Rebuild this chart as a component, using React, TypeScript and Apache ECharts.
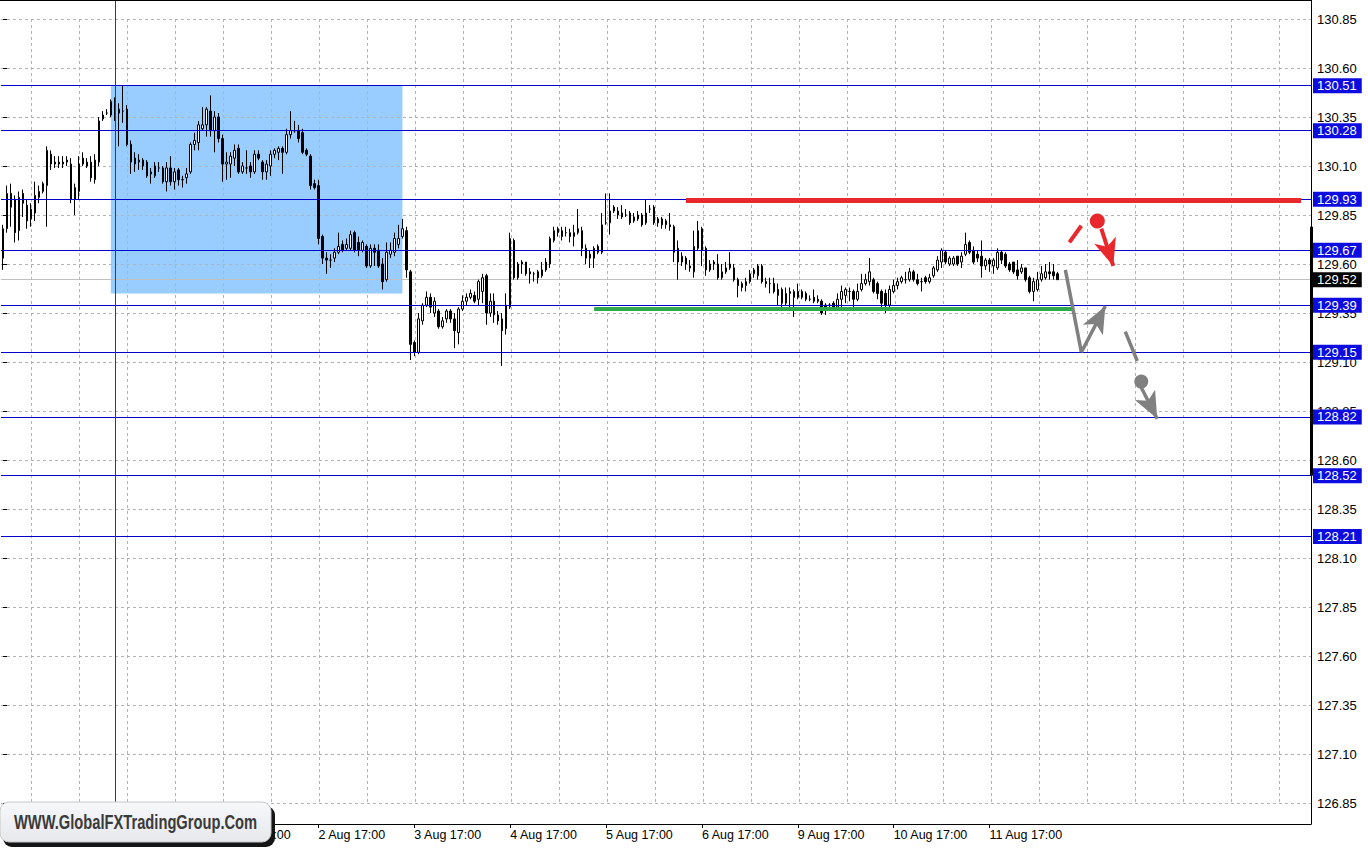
import React, { useEffect, useRef } from 'react';
import * as echarts from 'echarts';

// ---------------- data ----------------
// H1 candles, each row: [open, high, low, close]
const candlesA = [
  [129.63,129.80,129.57,129.78],[129.78,130.00,129.76,129.96],[129.96,130.01,129.79,129.89],[129.93,129.95,129.71,129.76],[129.77,129.97,129.72,129.94],
  [129.96,129.98,129.84,129.91],[129.90,129.93,129.78,129.82],[129.83,129.91,129.79,129.88],[129.86,130.02,129.82,129.95],[129.94,130.00,129.91,129.97],
  [129.97,130.02,129.96,130.01],[130.00,130.20,129.79,130.18],[130.16,130.18,130.08,130.11],[130.12,130.15,130.09,130.11],[130.11,130.15,130.09,130.12],
  [130.11,130.15,130.09,130.12],[130.13,130.15,130.10,130.12],[130.11,130.14,129.91,129.93],[129.93,130.01,129.85,129.99],[129.97,130.15,129.93,130.11],
  [130.14,130.17,130.10,130.11],[130.10,130.14,130.09,130.12],[130.12,130.15,130.02,130.04],[130.03,130.16,130.01,130.13],[130.12,130.35,130.10,130.33],
  [130.34,130.38,130.33,130.36],[130.37,130.39,130.36,130.37],[130.36,130.44,130.35,130.43],[130.42,130.45,130.33,130.35],[130.37,130.42,130.20,130.39],
  [130.38,130.51,130.32,130.38],[130.39,130.41,130.20,130.21],[130.21,130.23,130.06,130.12],[130.14,130.17,130.07,130.11],[130.12,130.16,130.08,130.13],
  [130.13,130.14,130.08,130.10],[130.12,130.13,130.04,130.05],[130.07,130.09,130.01,130.06],[130.05,130.12,130.04,130.10],[130.09,130.12,130.07,130.09],
  [130.09,130.10,130.01,130.02],[130.02,130.12,129.97,130.09],[130.09,130.15,130.00,130.02],[130.02,130.09,129.98,130.07],[130.08,130.09,130.00,130.03],
];
const candlesB = [
  [130.03,130.05,129.99,130.03],[130.04,130.09,130.01,130.06],[130.07,130.22,130.06,130.21],[130.21,130.27,130.18,130.23],[130.22,130.33,130.18,130.31],
  [130.29,130.40,130.28,130.31],[130.31,130.40,130.25,130.39],[130.38,130.46,130.25,130.28],[130.28,130.38,130.17,130.35],[130.35,130.37,130.22,130.24],
  [130.24,130.26,130.02,130.11],[130.11,130.17,130.03,130.12],[130.11,130.17,130.04,130.15],[130.14,130.21,130.10,130.18],[130.19,130.21,130.06,130.07],
  [130.07,130.12,130.06,130.10],[130.09,130.18,130.06,130.09],[130.10,130.12,130.04,130.07],[130.07,130.18,130.06,130.16],[130.16,130.18,130.13,130.14],
  [130.12,130.13,130.03,130.07],[130.07,130.13,130.03,130.11],[130.10,130.18,130.05,130.16],[130.16,130.19,130.14,130.18],[130.17,130.20,130.13,130.19],
  [130.19,130.20,130.06,130.17],[130.17,130.29,130.16,130.26],[130.26,130.38,130.24,130.28],[130.28,130.33,130.27,130.28],[130.28,130.31,130.22,130.24],
  [130.27,130.29,130.16,130.17],[130.18,130.19,130.15,130.16],[130.15,130.16,129.98,130.00],[130.01,130.03,129.98,129.99],[130.00,130.03,129.70,129.73],
  [129.74,129.75,129.60,129.63],[129.63,129.66,129.55,129.62],[129.62,129.65,129.58,129.62],[129.63,129.68,129.61,129.66],[129.66,129.76,129.65,129.69],
  [129.70,129.72,129.66,129.67],[129.68,129.73,129.67,129.70],[129.68,129.77,129.67,129.75],[129.76,129.77,129.66,129.67],[129.71,129.74,129.64,129.67],
];
const candlesC = [
  [129.67,129.72,129.66,129.71],[129.69,129.70,129.58,129.59],[129.59,129.70,129.58,129.68],[129.68,129.70,129.59,129.66],[129.67,129.70,129.58,129.59],
  [129.60,129.63,129.47,129.51],[129.52,129.71,129.51,129.66],[129.65,129.71,129.63,129.67],[129.66,129.76,129.64,129.73],[129.70,129.80,129.68,129.73],
  [129.74,129.83,129.73,129.78],[129.77,129.79,129.53,129.57],[129.56,129.57,129.11,129.19],[129.20,129.21,129.13,129.15],[129.15,129.35,129.14,129.32],
  [129.31,129.40,129.29,129.39],[129.39,129.46,129.38,129.43],[129.43,129.45,129.35,129.38],[129.35,129.43,129.33,129.41],[129.36,129.37,129.27,129.28],
  [129.28,129.33,129.27,129.31],[129.32,129.37,129.30,129.36],[129.36,129.37,129.30,129.32],[129.32,129.35,129.17,129.26],[129.25,129.38,129.19,129.37],
  [129.37,129.44,129.36,129.41],[129.41,129.45,129.39,129.43],[129.43,129.47,129.42,129.45],[129.44,129.46,129.40,129.41],[129.42,129.52,129.39,129.51],
  [129.46,129.55,129.40,129.53],[129.54,129.55,129.29,129.35],[129.35,129.45,129.33,129.41],[129.41,129.45,129.30,129.34],[129.34,129.36,129.29,129.31],
  [129.32,129.35,129.08,129.26],[129.27,129.45,129.24,129.39],[129.38,129.76,129.37,129.73],[129.72,129.73,129.52,129.53],[129.53,129.61,129.52,129.60],
  [129.60,129.62,129.55,129.61],[129.61,129.61,129.54,129.55],[129.56,129.58,129.50,129.55],[129.55,129.56,129.51,129.55],[129.56,129.57,129.50,129.53],
];
const candlesD = [
  [129.54,129.61,129.53,129.57],[129.57,129.63,129.56,129.61],[129.60,129.74,129.58,129.73],[129.72,129.79,129.71,129.77],[129.76,129.79,129.74,129.78],
  [129.77,129.79,129.72,129.74],[129.76,129.79,129.74,129.76],[129.76,129.78,129.71,129.74],[129.74,129.80,129.69,129.76],[129.76,129.88,129.75,129.78],
  [129.77,129.79,129.64,129.68],[129.68,129.70,129.60,129.63],[129.65,129.67,129.58,129.63],[129.63,129.69,129.58,129.68],[129.69,129.70,129.65,129.66],
  [129.66,129.86,129.65,129.80],[129.81,129.96,129.80,129.81],[129.81,129.96,129.75,129.87],[129.89,129.90,129.86,129.87],[129.87,129.89,129.83,129.85],
  [129.86,129.90,129.83,129.84],[129.85,129.88,129.84,129.85],[129.86,129.87,129.80,129.81],[129.82,129.86,129.81,129.84],[129.83,129.87,129.82,129.85],
  [129.85,129.86,129.79,129.80],[129.81,129.93,129.80,129.86],[129.88,129.90,129.86,129.88],[129.89,129.90,129.80,129.81],[129.83,129.84,129.79,129.81],
  [129.83,129.84,129.78,129.80],[129.80,129.83,129.78,129.82],[129.80,129.86,129.77,129.79],[129.79,129.80,129.61,129.66],[129.68,129.72,129.52,129.61],
  [129.61,129.66,129.59,129.64],[129.63,129.64,129.57,129.60],[129.59,129.62,129.56,129.58],[129.56,129.77,129.53,129.69],[129.68,129.82,129.67,129.77],
  [129.78,129.79,129.59,129.67],[129.68,129.69,129.54,129.57],[129.57,129.62,129.56,129.60],[129.60,129.62,129.57,129.61],[129.60,129.65,129.52,129.53],
];
const candlesE = [
  [129.53,129.60,129.52,129.56],[129.56,129.61,129.55,129.58],[129.58,129.66,129.57,129.60],[129.58,129.60,129.51,129.52],[129.52,129.53,129.43,129.49],
  [129.48,129.51,129.46,129.50],[129.49,129.53,129.46,129.51],[129.51,129.57,129.50,129.55],[129.55,129.58,129.53,129.57],[129.54,129.60,129.52,129.59],
  [129.59,129.60,129.50,129.51],[129.51,129.53,129.48,129.50],[129.50,129.53,129.45,129.50],[129.50,129.53,129.45,129.46],[129.47,129.50,129.39,129.44],
  [129.47,129.48,129.38,129.40],[129.40,129.48,129.39,129.45],[129.45,129.48,129.38,129.46],[129.43,129.47,129.33,129.46],[129.46,129.50,129.42,129.43],
  [129.43,129.47,129.42,129.46],[129.45,129.46,129.41,129.42],[129.42,129.44,129.41,129.42],[129.43,129.47,129.40,129.41],[129.42,129.44,129.40,129.41],
  [129.41,129.42,129.34,129.35],[129.39,129.40,129.34,129.37],[129.39,129.40,129.37,129.39],[129.40,129.41,129.36,129.38],[129.38,129.45,129.37,129.42],
  [129.42,129.49,129.37,129.46],[129.44,129.48,129.40,129.47],[129.46,129.48,129.41,129.46],[129.46,129.47,129.38,129.42],[129.42,129.50,129.41,129.46],
  [129.47,129.55,129.46,129.50],[129.50,129.55,129.49,129.52],[129.51,129.63,129.49,129.56],[129.52,129.53,129.45,129.46],[129.50,129.51,129.42,129.45],
  [129.46,129.47,129.38,129.40],[129.45,129.47,129.35,129.39],[129.39,129.49,129.38,129.47],[129.46,129.52,129.45,129.49],[129.49,129.53,129.47,129.51],
];
const candlesF = [
  [129.51,129.54,129.50,129.53],[129.52,129.56,129.50,129.52],[129.52,129.58,129.51,129.56],[129.56,129.57,129.51,129.52],[129.52,129.55,129.49,129.50],
  [129.51,129.53,129.46,129.51],[129.53,129.54,129.50,129.51],[129.51,129.55,129.50,129.53],[129.54,129.59,129.53,129.58],[129.57,129.64,129.56,129.62],
  [129.61,129.68,129.58,129.67],[129.66,129.67,129.60,129.61],[129.60,129.64,129.59,129.63],[129.60,129.64,129.59,129.63],[129.64,129.64,129.59,129.60],
  [129.61,129.66,129.58,129.64],[129.65,129.76,129.64,129.70],[129.71,129.72,129.65,129.66],[129.67,129.69,129.60,129.61],[129.65,129.67,129.61,129.63],
  [129.64,129.72,129.53,129.59],[129.59,129.63,129.57,129.62],[129.62,129.63,129.56,129.60],[129.59,129.63,129.55,129.62],[129.58,129.68,129.57,129.66],
  [129.66,129.67,129.60,129.62],[129.65,129.66,129.58,129.59],[129.60,129.61,129.56,129.57],[129.61,129.61,129.55,129.56],[129.57,129.62,129.52,129.54],
  [129.56,129.60,129.55,129.58],[129.58,129.58,129.51,129.52],[129.53,129.54,129.45,129.46],[129.46,129.53,129.41,129.51],[129.47,129.56,129.46,129.52],
  [129.52,129.59,129.51,129.55],[129.53,129.60,129.52,129.56],[129.56,129.61,129.52,129.55],[129.56,129.60,129.52,129.54],[129.55,129.56,129.52,129.52],
];

// time axis: one slot per hour bar (incl. empty future slots); label every 24 bars
const SLOT_COUNT = 328;
const FIRST_LABEL_BAR = 7;
const LABEL_STEP = 24;
const tickLabels = [
  '28 Jul 17:00', '29 Jul 17:00', '30 Jul 17:00', '2 Aug 17:00', '3 Aug 17:00', '4 Aug 17:00',
  '5 Aug 17:00', '6 Aug 17:00', '9 Aug 17:00', '10 Aug 17:00', '11 Aug 17:00',
];

// price scale
const PRICE_MIN = 126.74286;
const PRICE_MAX = 130.94694;
const priceTickFirst = 126.85;
const priceTickLast = 130.85;
const priceTickStep = 0.25;
const gridStepBars = 12;

// horizontal levels
const levels = [130.51, 130.28, 129.93, 129.67, 129.39, 129.15, 128.82, 128.52, 128.21];
const lastPrice = 129.52;

// drawn objects [barIndex, price]
const zoneBox = [[27, 130.51], [100, 129.45]];
const eventBar = 28;
const resistance = [[171, 129.925], [325, 129.925]];
const support = [[148, 129.372], [268, 129.372]];
const redLead = [[267, 129.71], [270, 129.795]];
const redArrow = [[275, 129.78], [278, 129.59]];
const redDot = [[274, 129.82]];
const grayPath = [[266, 129.57], [270, 129.15], [276, 129.385]];
const grayLead = [[281, 129.255], [284, 129.105]];
const grayDot = [[285, 129.0]];
const grayArrow = [[285, 128.97], [289, 128.81]];
const scaleMarker = [129.79, 128.52];

// ---------------- chart ----------------
const candles = [...candlesA, ...candlesB, ...candlesC, ...candlesD, ...candlesE, ...candlesF];
const categories = Array.from({ length: SLOT_COUNT }, (_, i) => String(i));
const labelFor = (i: number) => {
  if (i < FIRST_LABEL_BAR || (i - FIRST_LABEL_BAR) % LABEL_STEP !== 0) return null;
  const k = (i - FIRST_LABEL_BAR) / LABEL_STEP;
  return k < tickLabels.length ? tickLabels[k] : null;
};
const isLabelBar = (i: number) => labelFor(i) !== null;

const FONT = '"Liberation Sans", Arial, sans-serif';
const GRID_COLOR = '#b4b4b4';
const RED = '#e8282c';
const GRAY = '#808080';
const LEVEL_BLUE = '#0000c8';
const ARROW_SIZE = [17, 27];

const seg = (a: number[], b: number[], arrow: boolean) => [
  { coord: a, symbol: 'none' },
  arrow ? { coord: b, symbol: 'arrow', symbolSize: ARROW_SIZE } : { coord: b, symbol: 'none' },
];

const option: any = {
  animation: false,
  backgroundColor: '#ffffff',
  grid: [
    { left: 1, top: 0, width: 1310, height: 824, containLabel: false, outerBoundsMode: 'none' },
    { left: -17, top: 19, width: 1328, height: 784, containLabel: false, outerBoundsMode: 'none' },
  ],
  xAxis: [
    {
      type: 'category', gridIndex: 0, data: categories, boundaryGap: true, z: 3,
      axisLine: { show: true, lineStyle: { color: '#000', width: 1 } },
      axisTick: { show: true, interval: (i: number) => isLabelBar(i), alignWithLabel: true, length: 4, lineStyle: { color: '#000' } },
      axisLabel: {
        interval: (i: number) => isLabelBar(i),
        formatter: (_v: string, i: number) => labelFor(i) ?? '',
        align: 'left', color: '#000', fontSize: 12.5, fontFamily: FONT, margin: 4,
      },
      splitLine: { show: false },
    },
    {
      type: 'value', gridIndex: 1, min: -5, max: 327, interval: gridStepBars, z: 1,
      axisLine: { show: false }, axisTick: { show: false }, axisLabel: { show: false },
      splitLine: { show: true, lineStyle: { color: GRID_COLOR, width: 1, type: [3, 3] } },
    },
  ],
  yAxis: [
    {
      type: 'value', gridIndex: 0, position: 'right', min: PRICE_MIN, max: PRICE_MAX, z: 3,
      axisLine: { show: true, lineStyle: { color: '#000', width: 1 } },
      axisTick: { show: false }, axisLabel: { show: false }, splitLine: { show: false },
    },
    {
      type: 'value', gridIndex: 1, position: 'right', min: priceTickFirst, max: priceTickLast, interval: priceTickStep, z: 1,
      axisLine: { show: false },
      axisTick: { show: true, inside: false, length: 4, lineStyle: { color: '#000' } },
      axisLabel: { formatter: (v: number) => v.toFixed(2), color: '#000', fontSize: 13, fontFamily: FONT, margin: 6 },
      splitLine: { show: true, lineStyle: { color: GRID_COLOR, width: 1, type: [3, 3] } },
    },
  ],
  series: [
    {
      name: 'zone', type: 'line', xAxisIndex: 0, yAxisIndex: 0, data: [], silent: true,
      markArea: {
        silent: true, z: 0,
        itemStyle: { color: '#99ccff', opacity: 1 },
        data: [[{ coord: zoneBox[0] }, { coord: zoneBox[1] }]],
      },
    },
    {
      name: 'bid', type: 'line', xAxisIndex: 0, yAxisIndex: 0, data: [], silent: true,
      markLine: {
        silent: true, z: 1.5, symbol: ['none', 'none'],
        lineStyle: { color: '#c0c0c0', width: 1, type: 'solid' },
        label: {
          show: true, position: 'end', distance: 2, formatter: (p: any) => Number(p.value).toFixed(2),
          color: '#fff', backgroundColor: '#000', padding: [1, 5, 1, 4], fontSize: 13, fontFamily: FONT, lineHeight: 13,
        },
        data: [{ yAxis: lastPrice, lineStyle: { color: '#c0c0c0' } }],
      },
    },
    {
      name: 'price', type: 'candlestick', xAxisIndex: 0, yAxisIndex: 0, z: 2, barWidth: 2,
      data: candles.map(([o, h, l, c]) => [o, c, l, h]),
      itemStyle: {
        color: '#ffffff', color0: '#000000', borderColor: '#000000', borderColor0: '#000000',
        borderColorDoji: '#000000', borderWidth: 1,
      },
    },
    {
      name: 'levels', type: 'line', xAxisIndex: 0, yAxisIndex: 0, data: [], silent: true,
      markLine: {
        silent: true, z: 5, symbol: ['none', 'none'],
        lineStyle: { color: LEVEL_BLUE, width: 1, type: 'solid' },
        label: {
          show: true, position: 'end', distance: 2, formatter: (p: any) => Number(p.value).toFixed(2),
          color: '#fff', backgroundColor: '#0c0ce0', padding: [1, 5, 1, 4], fontSize: 13, fontFamily: FONT, lineHeight: 13,
        },
        data: levels.map((p) => ({ yAxis: p, lineStyle: { color: LEVEL_BLUE } })),
      },
    },
    {
      name: 'event', type: 'line', xAxisIndex: 0, yAxisIndex: 0, data: [], silent: true,
      markLine: {
        silent: true, z: 5, symbol: ['none', 'none'], label: { show: false },
        lineStyle: { color: '#d00000', width: 1, type: 'solid' },
        data: [{ xAxis: eventBar, lineStyle: { color: '#d00000', width: 1 } }],
      },
    },
    {
      name: 'resistance', type: 'line', xAxisIndex: 0, yAxisIndex: 0, data: [], silent: true,
      markLine: {
        silent: true, z: 6, symbol: ['none', 'none'], label: { show: false },
        lineStyle: { color: RED, width: 5, type: 'solid', cap: 'butt' },
        data: [seg(resistance[0], resistance[1], false)],
      },
    },
    {
      name: 'support', type: 'line', xAxisIndex: 0, yAxisIndex: 0, data: [], silent: true,
      markLine: {
        silent: true, z: 6, symbol: ['none', 'none'], label: { show: false },
        lineStyle: { color: '#2ea84a', width: 4, type: 'solid', cap: 'butt' },
        data: [seg(support[0], support[1], false)],
      },
    },
    {
      name: 'redScenario', type: 'line', xAxisIndex: 0, yAxisIndex: 0, data: [], silent: true,
      markLine: {
        silent: true, z: 6, label: { show: false }, symbol: ['none', 'arrow'], symbolSize: [ARROW_SIZE, ARROW_SIZE],
        lineStyle: { color: RED, width: 4, type: 'solid', opacity: 1 },
        itemStyle: { color: RED },
        data: [seg(redLead[0], redLead[1], false), seg(redArrow[0], redArrow[1], true)],
      },
    },
    {
      name: 'grayScenario', type: 'line', xAxisIndex: 0, yAxisIndex: 0, data: [], silent: true,
      markLine: {
        silent: true, z: 6, label: { show: false }, symbol: ['none', 'arrow'], symbolSize: [ARROW_SIZE, ARROW_SIZE],
        lineStyle: { color: GRAY, width: 3.5, type: 'solid', opacity: 1 },
        itemStyle: { color: GRAY },
        data: [
          seg(grayPath[0], grayPath[1], false),
          seg(grayPath[1], grayPath[2], true),
          seg(grayLead[0], grayLead[1], false),
          seg(grayArrow[0], grayArrow[1], true),
        ],
      },
    },
    {
      name: 'redDot', type: 'scatter', xAxisIndex: 0, yAxisIndex: 0, z: 7, silent: true,
      symbol: 'circle', symbolSize: 15, itemStyle: { color: RED, opacity: 1 }, data: redDot,
    },
    {
      name: 'grayDot', type: 'scatter', xAxisIndex: 0, yAxisIndex: 0, z: 7, silent: true,
      symbol: 'circle', symbolSize: 14, itemStyle: { color: GRAY, opacity: 1 }, data: grayDot,
    },
  ],
};

export default function App() {
  const ref = useRef<HTMLDivElement>(null);
  useEffect(() => {
    document.body.style.margin = '0';
    const chart = echarts.init(ref.current!, null, { renderer: 'svg' });
    chart.setOption(option);
    const [yA, yB] = scaleMarker.map((p) => chart.convertToPixel({ yAxisIndex: 0 }, p) as number);
    const xAxisEdge = chart.convertToPixel({ xAxisIndex: 1 }, 327) as number;
    chart.setOption({
      graphic: [
        { type: 'rect', z: 20, silent: true, shape: { x: 0, y: 0, width: xAxisEdge, height: 1 }, style: { fill: '#000' } },
        { type: 'rect', z: 20, silent: true, shape: { x: xAxisEdge - 1, y: yA, width: 3, height: yB - yA }, style: { fill: '#000' } },
        {
          type: 'group', z: 30, silent: true,
          children: [
            { type: 'rect', z: 30, shape: { x: 3, y: 806, width: 272, height: 41, r: 9 }, style: { fill: '#151515' } },
            {
              type: 'rect', z: 31, shape: { x: 0, y: 802, width: 271, height: 40, r: 9 },
              style: {
                fill: new echarts.graphic.LinearGradient(0, 0, 0, 1, [
                  { offset: 0, color: '#f7f8fa' },
                  { offset: 1, color: '#e6e8ec' },
                ]),
                stroke: '#c8c8c8', lineWidth: 1,
              },
            },
            {
              type: 'text', z: 32, x: 14, y: 822, scaleX: 0.7,
              style: {
                text: 'WWW.GlobalFXTradingGroup.Com', font: 'bold 21px "Liberation Sans", Arial, sans-serif',
                fill: '#3a3a3a', verticalAlign: 'middle', align: 'left',
                shadowColor: 'rgba(0,0,0,0.55)', shadowBlur: 3, shadowOffsetX: 1, shadowOffsetY: 2,
              },
            },
          ],
        },
      ],
    });
    return () => chart.dispose();
  }, []);
  return <div ref={ref} style={{ position: 'absolute', left: 0, top: 0, width: 1368, height: 848 }} />;
}
